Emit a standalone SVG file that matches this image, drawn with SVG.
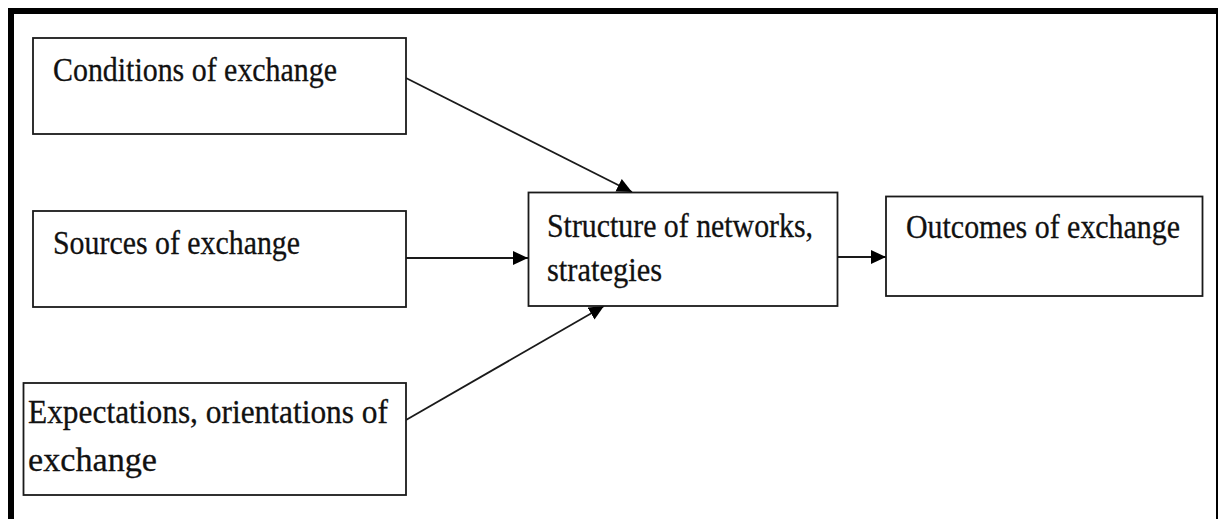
<svg xmlns="http://www.w3.org/2000/svg" width="1218" height="519" viewBox="0 0 1218 519">
  <style>
    .box { fill: #ffffff; stroke: #1a1a1a; stroke-width: 1.8; }
    .lbl { font-family: "Liberation Serif", "Times New Roman", serif; font-size: 34px; fill: #111111; stroke: #111111; stroke-width: 0.3; }
    .edge { stroke: #1a1a1a; stroke-width: 1.8; fill: none; marker-end: url(#head); }
  </style>
  <defs>
    <marker id="head" markerUnits="userSpaceOnUse" markerWidth="16" markerHeight="14" viewBox="0 0 16 14" refX="15" refY="7" orient="auto">
      <path d="M0,0 L15,7 L0,14 Z" fill="#000000"/>
    </marker>
  </defs>

  <rect x="0" y="0" width="1218" height="519" fill="#ffffff"/>

  <!-- page frame -->
  <g id="frame" fill="#000000">
    <rect x="8" y="8" width="1210" height="6"/>
    <rect x="8" y="8" width="6" height="511"/>
    <rect x="1216" y="8" width="2" height="511"/>
  </g>

  <g id="connectors">
    <line class="edge" x1="406" y1="78" x2="632" y2="192"/>
    <line class="edge" x1="406" y1="258" x2="528" y2="258"/>
    <line class="edge" x1="406" y1="420" x2="604" y2="306"/>
    <line class="edge" x1="837" y1="257" x2="886" y2="257"/>
  </g>

  <g id="conditions">
    <rect class="box" x="33" y="38" width="373" height="96"/>
    <text class="lbl" x="53" y="81" textLength="284" lengthAdjust="spacingAndGlyphs">Conditions of exchange</text>
  </g>

  <g id="sources">
    <rect class="box" x="33" y="211" width="373" height="96"/>
    <text class="lbl" x="53" y="254" textLength="247" lengthAdjust="spacingAndGlyphs">Sources of exchange</text>
  </g>

  <g id="expectations">
    <rect class="box" x="23.5" y="383" width="382.5" height="112"/>
    <text class="lbl" x="28" y="423" textLength="360" lengthAdjust="spacingAndGlyphs">Expectations, orientations of</text>
    <text class="lbl" x="28" y="471" textLength="129" lengthAdjust="spacingAndGlyphs">exchange</text>
  </g>

  <g id="structure">
    <rect class="box" x="528.5" y="192.5" width="309" height="113.5"/>
    <text class="lbl" x="547" y="237" textLength="266" lengthAdjust="spacingAndGlyphs">Structure of networks,</text>
    <text class="lbl" x="547" y="281" textLength="115" lengthAdjust="spacingAndGlyphs">strategies</text>
  </g>

  <g id="outcomes">
    <rect class="box" x="886" y="196.5" width="316.5" height="99.5"/>
    <text class="lbl" x="906" y="238" textLength="274" lengthAdjust="spacingAndGlyphs">Outcomes of exchange</text>
  </g>
</svg>
